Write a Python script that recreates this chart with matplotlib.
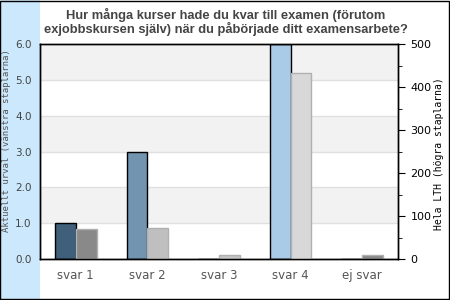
import matplotlib
matplotlib.use("Agg")
import matplotlib.pyplot as plt
from matplotlib.patches import Rectangle
from matplotlib.ticker import MultipleLocator, FormatStrFormatter
import numpy as np

categories = ["svar 1", "svar 2", "svar 3", "svar 4", "ej svar"]
urval = [1.0, 3.0, 0.0, 6.0, 0.0]
lth = [69, 72, 9, 432, 9]
urval_colors = ["#3f5f7b", "#7194b1", "#aacbe7", "#aacbe7", "#aacbe7"]
lth_colors = ["#898989", "#bfbfbf", "#c4c4c4", "#d8d8d8", "#898989"]
title = "Hur många kurser hade du kvar till examen (förutom\nexjobbskursen själv) när du påbörjade ditt examensarbete?"

fig = plt.figure(figsize=(4.5, 3), dpi=100)
fig.patches.append(Rectangle((0, 0.005), 40 / 450, 0.995, transform=fig.transFigure,
                             facecolor="#cce8fc", edgecolor="none", zorder=-5))
fig.patches.append(Rectangle((0.001, 0.004), 0.997, 0.994, transform=fig.transFigure,
                             facecolor="none", edgecolor="black", lw=1, zorder=5))

ax = fig.add_axes([40 / 450, 41 / 300, 358 / 450, 215 / 300])
x = np.arange(len(categories))
w = 0.29

# alternating bands
for k in range(6):
    if k % 2 == 1:
        ax.axhspan(k, k + 1, color="#f2f2f2", zorder=0, lw=0)
    ax.axhline(k, color="#e0e0e0", lw=1, zorder=0.5)

ax.bar(x - w / 2, urval, w, color=urval_colors, edgecolor="black", lw=1, zorder=2)
ax.set_xlim(-0.5, len(categories) - 0.5)
ax.set_ylim(0, 6)
ax.yaxis.set_major_locator(MultipleLocator(1))
ax.yaxis.set_major_formatter(FormatStrFormatter("%.1f"))
ax.tick_params(axis="y", length=0, labelsize=7.5, labelcolor="#444444", pad=6)
ax.set_xticks(x)
ax.set_xticklabels(categories)
ax.tick_params(axis="x", length=0, labelsize=8.5, labelcolor="#555555", pad=7)
ax.set_ylabel("Aktuellt urval (vänstra staplarna)", family="DejaVu Sans Mono",
              fontsize=6.5, color="#555555")
ax.yaxis.set_label_coords(-0.081, 0.55)

ax2 = ax.twinx()
ax2.bar(x + w / 2, lth, w, color=lth_colors, edgecolor="#b0b0b0", lw=1, zorder=2)
ax2.set_ylim(0, 500)
ax2.yaxis.set_major_locator(MultipleLocator(100))
ax2.yaxis.set_minor_locator(MultipleLocator(50))
ax2.tick_params(axis="y", which="major", length=5, labelsize=8, pad=4)
ax2.tick_params(axis="y", which="minor", length=3)
ax2.set_ylabel("Hela LTH (högra staplarna)", family="DejaVu Sans Mono", fontsize=7)
ax2.yaxis.set_label_coords(1.1, 0.49)

for a in (ax, ax2):
    for s in a.spines.values():
        s.set_color("black")
        s.set_linewidth(1)

fig.text(0.502, 0.975, title, ha="center", va="top", fontsize=9.3, fontweight="bold",
         family="Liberation Sans", color="#444444", linespacing=1.05)

fig.savefig("out.png", dpi=100)
